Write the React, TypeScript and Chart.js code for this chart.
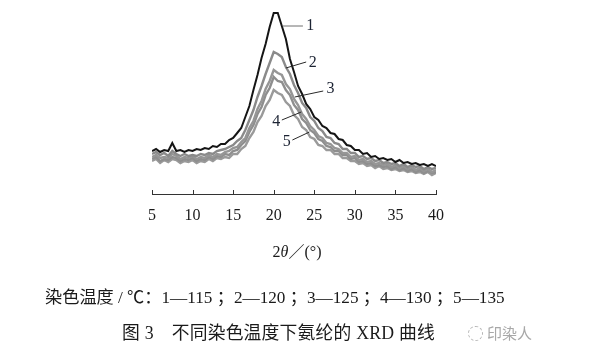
import React, { useEffect, useRef } from "react";
import { Chart, registerables } from "chart.js";

Chart.register(...registerables);

// 2θ (degrees)
const twoTheta = [
  5, 5.5, 6, 6.5, 7, 7.5, 8, 8.5, 9, 9.5,
  10, 10.5, 11, 11.5, 12, 12.5, 13, 13.5, 14, 14.5,
  15, 15.5, 16, 16.5, 17, 17.5, 18, 18.5, 19, 19.5,
  20, 20.5, 21, 21.5, 22, 22.5, 23, 23.5, 24, 24.5,
  25, 25.5, 26, 26.5, 27, 27.5, 28, 28.5, 29, 29.5,
  30, 30.5, 31, 31.5, 32, 32.5, 33, 33.5, 34, 34.5,
  35, 35.5, 36, 36.5, 37, 37.5, 38, 38.5, 39, 39.5,
  40,
];

// intensity (a.u.) — 1: 115 ℃
const curve1 = [
  43, 45, 42, 44, 43, 51, 43, 44, 42, 44,
  43, 45, 44, 46, 45, 48, 47, 50, 50, 54,
  56, 61, 66, 77, 88, 104, 119, 136, 150, 167,
  181, 181, 168, 155, 135, 122, 108, 100, 90, 85,
  77, 74, 68, 66, 61, 60, 55, 54, 49, 48,
  44, 44, 40, 41, 37, 38, 35, 36, 34, 35,
  32, 34, 31, 32, 30, 31, 29, 30, 28, 30,
  28,
];
// 2: 120 ℃
const curve2 = [
  40, 42, 39, 41, 38, 43, 40, 38, 40, 38,
  39, 38, 40, 39, 41, 40, 43, 44, 45, 47,
  49, 53, 56, 64, 74, 84, 97, 108, 120, 131,
  142, 140, 137, 127, 120, 109, 101, 91, 86, 77,
  73, 66, 63, 57, 56, 51, 50, 45, 45, 41,
  41, 37, 38, 35, 36, 33, 34, 31, 32, 30,
  31, 28, 30, 27, 29, 27, 28, 25, 27, 25,
  26,
];
// 3: 125 ℃
const curve3 = [
  37, 39, 36, 37, 36, 40, 38, 35, 37, 36,
  38, 35, 37, 36, 39, 37, 40, 39, 42, 43,
  46, 47, 52, 56, 66, 73, 85, 93, 105, 113,
  124, 121, 119, 110, 105, 95, 89, 80, 75, 68,
  64, 58, 56, 51, 50, 46, 45, 41, 41, 37,
  38, 34, 35, 32, 33, 30, 31, 29, 30, 27,
  29, 26, 28, 25, 27, 24, 26, 23, 25, 22,
  24,
];
// 4: 130 ℃
const curve4 = [
  35, 37, 33, 35, 34, 37, 36, 33, 35, 34,
  36, 33, 35, 34, 37, 35, 38, 37, 40, 39,
  43, 44, 49, 53, 62, 69, 80, 87, 99, 106,
  117, 113, 112, 104, 99, 89, 84, 75, 71, 64,
  61, 55, 53, 48, 47, 43, 43, 39, 39, 35,
  36, 32, 33, 30, 31, 28, 29, 27, 28, 25,
  27, 24, 26, 23, 25, 22, 24, 21, 23, 21,
  22,
];
// 5: 135 ℃
const curve5 = [
  33, 35, 31, 34, 32, 35, 34, 31, 33, 32,
  34, 31, 33, 32, 35, 33, 36, 35, 37, 36,
  40, 40, 45, 48, 56, 62, 72, 78, 88, 94,
  104, 101, 99, 92, 88, 79, 75, 67, 64, 57,
  55, 49, 48, 44, 44, 40, 40, 36, 36, 33,
  33, 30, 31, 28, 29, 26, 28, 25, 26, 24,
  25, 23, 24, 22, 23, 21, 22, 20, 22, 19,
  21,
];

const seriesNames = ["1", "2", "3", "4", "5"];
const xTicks = [5, 10, 15, 20, 25, 30, 35, 40];

// callout labels in data units
const callouts = [
  { t: "1", tx: 24.5, ty: 168, x1: 21.1, y1: 168, x2: 23.6, y2: 168, c: "#6e6e6e" },
  { t: "2", tx: 24.8, ty: 131, x1: 21.5, y1: 126, x2: 24.0, y2: 132, c: "#2a2a2a" },
  { t: "3", tx: 27.0, ty: 105, x1: 22.6, y1: 97, x2: 26.1, y2: 103, c: "#2a2a2a" },
  { t: "4", tx: 20.3, ty: 72, x1: 21.0, y1: 74, x2: 23.4, y2: 82, c: "#2a2a2a" },
  { t: "5", tx: 21.6, ty: 52, x1: 22.3, y1: 54, x2: 24.4, y2: 62, c: "#2a2a2a" },
];

const SERIF = "'Liberation Serif', 'Times New Roman', 'Noto Sans CJK SC', serif";

export default function App() {
  const ref = useRef<HTMLCanvasElement | null>(null);

  useEffect(() => {
    const canvas = ref.current;
    if (!canvas) return;
    const colors = ["#151515", "#8a8a8a", "#969696", "#8e8e8e", "#9a9a9a"];
    const widths = [2, 2.4, 2.4, 2.4, 2.4];
    const all = [curve1, curve2, curve3, curve4, curve5];

    const annotate = {
      id: "annotate",
      afterDatasetsDraw(chart: any) {
        const ctx = chart.ctx;
        const xs = chart.scales.x;
        const ys = chart.scales.y;
        ctx.save();
        ctx.strokeStyle = "#333";
        ctx.lineWidth = 1;
        const b = chart.chartArea.bottom;
        xTicks.forEach((v) => {
          const px = Math.round(xs.getPixelForValue(v)) + 0.5;
          ctx.beginPath();
          ctx.moveTo(px, b);
          ctx.lineTo(px, b - 4);
          ctx.stroke();
        });
        ctx.font = `16px ${SERIF}`;
        ctx.textAlign = "center";
        ctx.textBaseline = "middle";
        callouts.forEach((c) => {
          ctx.strokeStyle = c.c;
          ctx.lineWidth = 1;
          ctx.beginPath();
          ctx.moveTo(xs.getPixelForValue(c.x1), ys.getPixelForValue(c.y1));
          ctx.lineTo(xs.getPixelForValue(c.x2), ys.getPixelForValue(c.y2));
          ctx.stroke();
          ctx.fillStyle = "#1c2333";
          ctx.fillText(c.t, xs.getPixelForValue(c.tx), ys.getPixelForValue(c.ty));
        });
        ctx.restore();
      },
    };

    const chart = new Chart(canvas, {
      type: "line",
      data: {
        datasets: all.map((arr, i) => ({
          label: seriesNames[i],
          data: twoTheta.map((x, k) => ({ x, y: arr[k] })),
          borderColor: colors[i],
          borderWidth: widths[i],
          borderJoinStyle: "miter" as const,
          pointRadius: 0,
          tension: 0,
          fill: false,
        })),
      },
      options: {
        animation: false,
        responsive: false,
        maintainAspectRatio: false,
        layout: { padding: { left: 152, right: 154, top: 8, bottom: 133 } },
        plugins: { legend: { display: false }, tooltip: { enabled: false } },
        scales: {
          x: {
            type: "linear",
            min: 5,
            max: 40,
            grid: { display: false, drawTicks: false },
            border: { display: true, color: "#333", width: 1 },
            afterBuildTicks: (s: any) => {
              s.ticks = xTicks.map((v) => ({ value: v }));
            },
            afterFit: (s: any) => {
              s.paddingLeft = 0;
              s.paddingRight = 0;
              s.height = 30;
            },
            ticks: {
              padding: 12,
              color: "#1a1a1a",
              font: { family: SERIF, size: 16 },
              maxRotation: 0,
              autoSkip: false,
            },
          },
          y: { display: false, min: 0, max: 186 },
        },
      },
      plugins: [annotate],
    });
    return () => chart.destroy();
  }, []);

  const abs = (o: any) => ({ position: "absolute" as const, ...o });

  return (
    <div style={{ position: "fixed", left: 0, top: 0, width: 590, height: 357, background: "#fff", overflow: "hidden" }}>
      <canvas ref={ref} width={590} height={357} style={{ position: "absolute", left: 0, top: 0, width: 590, height: 357 }} />
      <div style={abs({ left: 297, top: 241, transform: "translateX(-50%)", font: `16px ${SERIF}`, lineHeight: "22px", color: "#1a1a1a", whiteSpace: "pre" })}>
        2<i>θ</i>／(°)
      </div>
      <div style={abs({ left: 45, top: 287, font: `17.2px ${SERIF}`, lineHeight: "22px", color: "#1a1a1a", whiteSpace: "pre" })}>
        染色温度 / ℃：1—115 ；2—120 ；3—125 ；4—130 ；5—135
      </div>
      <div style={abs({ left: 122, top: 322, font: `17.8px ${SERIF}`, letterSpacing: "0.2px", lineHeight: "22px", color: "#1a1a1a", whiteSpace: "pre" })}>
        图 3　不同染色温度下氨纶的 XRD 曲线
      </div>
      <div style={abs({ left: 468, top: 326, width: 13, height: 13, border: "1px dashed #b5b5b5", borderRadius: "50%" })} />
      <div style={abs({ left: 487, top: 323, font: `15px 'Noto Sans CJK SC', sans-serif`, lineHeight: "20px", color: "#a8a8a8" })}>
        印染人
      </div>
    </div>
  );
}
